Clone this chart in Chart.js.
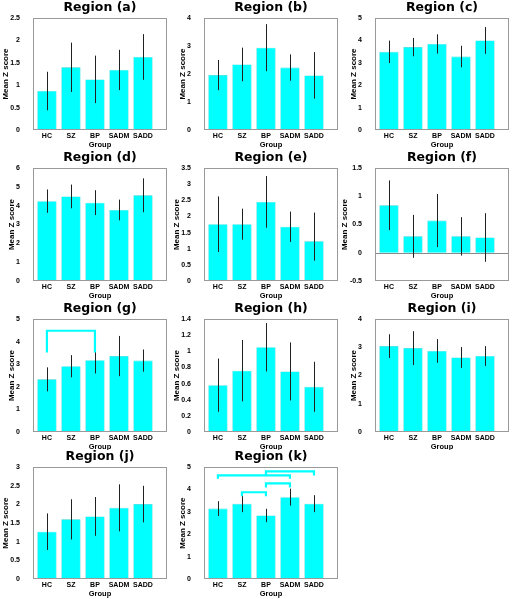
<!DOCTYPE html>
<html><head><meta charset="utf-8">
<script src="https://cdn.jsdelivr.net/npm/chart.js@4.4.0/dist/chart.umd.min.js"></script>
<style>
html,body{margin:0;padding:0;background:#fff;}
#wrap{position:relative;width:513px;height:599px;overflow:hidden;}
canvas{position:absolute;}
</style></head><body><div id="wrap"></div>
<script>
const groups = ['HC', 'SZ', 'BP', 'SADM', 'SADD'];
const titles = ['Region (a)', 'Region (b)', 'Region (c)', 'Region (d)', 'Region (e)', 'Region (f)',
                'Region (g)', 'Region (h)', 'Region (i)', 'Region (j)', 'Region (k)'];
const yTitle = 'Mean Z score';
const xTitle = 'Group';

// bar heights and error-bar half lengths (lower; upper when an upper array is given)
const meanA = [0.87, 1.40, 1.13, 1.34, 1.63];  const errA = [0.43, 0.55, 0.53, 0.45, 0.51];
const meanB = [1.96, 2.34, 2.94, 2.23, 1.95];  const errB = [0.54, 0.60, 0.84, 0.47, 0.83];
const meanC = [3.49, 3.70, 3.84, 3.28, 4.00];  const errC = [0.50, 0.41, 0.43, 0.48, 0.60];
const meanD = [4.24, 4.49, 4.16, 3.77, 4.55];  const errD = [0.62, 0.63, 0.66, 0.55, 0.90];
const meanE = [1.76, 1.76, 2.45, 1.68, 1.23];  const errE = [0.86, 0.48, 0.80, 0.47, 0.60];
const errEUp = [0.86, 0.48, 0.80, 0.47, 0.89];
const meanF = [0.84, 0.29, 0.57, 0.29, 0.27];  const errF = [0.44, 0.38, 0.47, 0.34, 0.43];
const meanG = [2.33, 2.91, 3.18, 3.36, 3.16];  const errG = [0.53, 0.49, 0.59, 0.89, 0.49];
const meanH = [0.58, 0.76, 1.05, 0.75, 0.56];  const errH = [0.33, 0.38, 0.30, 0.36, 0.31];
const meanI = [3.04, 2.97, 2.87, 2.64, 2.69];  const errI = [0.42, 0.60, 0.42, 0.37, 0.35];
const meanJ = [1.27, 1.60, 1.68, 1.91, 2.01];  const errJ = [0.49, 0.54, 0.52, 0.63, 0.49];
const meanK = [3.15, 3.36, 2.84, 3.66, 3.37];  const errK = [0.33, 0.37, 0.30, 0.38, 0.38];

const allMeans = [meanA, meanB, meanC, meanD, meanE, meanF, meanG, meanH, meanI, meanJ, meanK];
const allErrs  = [errA, errB, errC, errD, errE, errF, errG, errH, errI, errJ, errK];
const allErrsUp = [errA, errB, errC, errD, errEUp, errF, errG, errH, errI, errJ, errK];

const yMins  = [0, 0, 0, 0, 0, -0.5, 0, 0, 0, 0, 0];
const yMaxs  = [2.5, 4, 5, 6, 3.5, 1.5, 5, 1.4, 4, 3, 5];
const ySteps = [0.5, 1, 1, 1, 0.5, 0.5, 1, 0.2, 1, 0.5, 1];

// significance brackets: [fromGroup, toGroup, topValue, legEndValue]
const bracketsG = [[1, 3, 4.48, 3.52]];
const bracketsK = [[1, 4, 4.63, 4.48], [3, 5, 4.81, 4.63], [2, 3, 3.88, 3.70], [3, 4, 4.28, 4.09]];
const allBrackets = [[], [], [], [], [], [], bracketsG, [], [], [], bracketsK];

const FONT = "'Liberation Sans', Arial, sans-serif";
const TFONT = "'DejaVu Sans', 'Liberation Sans', sans-serif";
const CW = 171, CH = 150;
const rowTop = [18, 18, 19, 17];
const rowBottom = [130, 131, 132, 129];
const areaLeft = 33, areaRight = 167;
const TICK_PAD = 13;

function overlay(means, errLo, errHi, brackets, zeroLine) {
  return {
    id: 'overlay',
    afterDatasetsDraw(chart) {
      const ctx = chart.ctx, a = chart.chartArea, x = chart.scales.x, y = chart.scales.y;
      ctx.save();
      if (zeroLine) {
        const py = Math.round(y.getPixelForValue(0)) + 0.5;
        ctx.strokeStyle = '#8a8a8a'; ctx.lineWidth = 1;
        ctx.beginPath(); ctx.moveTo(a.left, py); ctx.lineTo(a.right, py); ctx.stroke();
      }
      ctx.strokeStyle = '#202020'; ctx.lineWidth = 1;
      means.forEach((m, i) => {
        const px = Math.round(x.getPixelForValue(i + 1)) + 0.5;
        ctx.beginPath();
        ctx.moveTo(px, y.getPixelForValue(m - errLo[i]));
        ctx.lineTo(px, y.getPixelForValue(m + errHi[i]));
        ctx.stroke();
      });
      ctx.strokeStyle = '#00FFFF'; ctx.lineWidth = 2.2; ctx.lineJoin = 'miter';
      brackets.forEach(b => {
        const x1 = x.getPixelForValue(b[0]), x2 = x.getPixelForValue(b[1]);
        const yt = y.getPixelForValue(b[2]), yl = y.getPixelForValue(b[3]);
        ctx.beginPath(); ctx.moveTo(x1, yl); ctx.lineTo(x1, yt); ctx.lineTo(x2, yt); ctx.lineTo(x2, yl); ctx.stroke();
      });
      ctx.strokeStyle = '#9a9a9a'; ctx.lineWidth = 1;
      ctx.strokeRect(Math.round(a.left) + 0.5, Math.round(a.top) + 0.5, Math.round(a.width) - 1, Math.round(a.height) - 1);
      // y-axis title, placed next to the widest tick label
      ctx.font = 'bold 7px ' + FONT;
      let w = 0;
      y.ticks.forEach(t => { w = Math.max(w, ctx.measureText(String(t.label)).width); });
      const cx = a.left - TICK_PAD - w - 4.8;
      ctx.translate(cx, (a.top + a.bottom) / 2);
      ctx.rotate(-Math.PI / 2);
      ctx.font = 'bold 8px ' + FONT;
      ctx.fillStyle = '#000'; ctx.textAlign = 'center'; ctx.textBaseline = 'middle';
      ctx.fillText(yTitle, 0, 0);
      ctx.restore();
    }
  };
}

const wrap = document.getElementById('wrap');
titles.forEach((t, k) => {
  const row = Math.floor(k / 3), col = k % 3;
  const cv = document.createElement('canvas');
  cv.width = CW; cv.height = CH;
  cv.style.left = (col * CW) + 'px'; cv.style.top = (row * CH) + 'px';
  cv.style.width = CW + 'px'; cv.style.height = CH + 'px';
  wrap.appendChild(cv);
  const means = allMeans[k];
  const chart = new Chart(cv, {
    type: 'bar',
    data: {
      datasets: [{
        data: means.map((m, i) => ({ x: i + 1, y: m })),
        backgroundColor: '#00FFFF',
        borderColor: '#29d9d9',
        borderWidth: 0.6,
        barPercentage: 0.8,
        categoryPercentage: 1.0
      }]
    },
    options: {
      responsive: false, animation: false, devicePixelRatio: 1,
      layout: { padding: { left: 10, right: 4, top: 0, bottom: 0 } },
      plugins: {
        legend: { display: false }, tooltip: { enabled: false },
        title: {
          display: true, text: t, fullSize: false, color: '#000',
          font: { family: TFONT, size: 12.5, weight: 'bold', lineHeight: 1.15 }, padding: { top: 0, bottom: 3 }
        }
      },
      scales: {
        x: {
          type: 'linear', min: 0.42, max: 6.0, offset: false,
          afterBuildTicks: s => { s.ticks = groups.map((g, i) => ({ value: i + 1 })); },
          ticks: { callback: v => groups[Math.round(v) - 1] || '', color: '#000', padding: 1.5, maxRotation: 0, autoSkip: false,
                   font: { family: FONT, size: 7, weight: 'bold' } },
          grid: { display: false, drawTicks: false, offset: false }, border: { display: false },
          title: { display: true, text: xTitle, color: '#000', padding: { top: -1, bottom: 0 },
                   font: { family: FONT, size: 7.5, weight: 'bold' } }
        },
        y: {
          min: yMins[k], max: yMaxs[k],
          ticks: { stepSize: ySteps[k], color: '#000', padding: TICK_PAD,
                   callback: v => String(+v.toFixed(2)),
                   font: { family: FONT, size: 7, weight: 'bold' } },
          grid: { display: false, drawTicks: false }, border: { display: false },
          title: { display: false }
        }
      }
    },
    plugins: [overlay(means, allErrs[k], allErrsUp[k], allBrackets[k], yMins[k] < 0)]
  });
  const a = chart.chartArea, p = chart.options.layout.padding;
  chart.options.layout.padding = {
    left: p.left + (areaLeft - a.left),
    right: p.right + (a.right - areaRight),
    top: p.top + (rowTop[row] - a.top),
    bottom: p.bottom + (a.bottom - rowBottom[row])
  };
  chart.update('none');
});
</script></body></html>
